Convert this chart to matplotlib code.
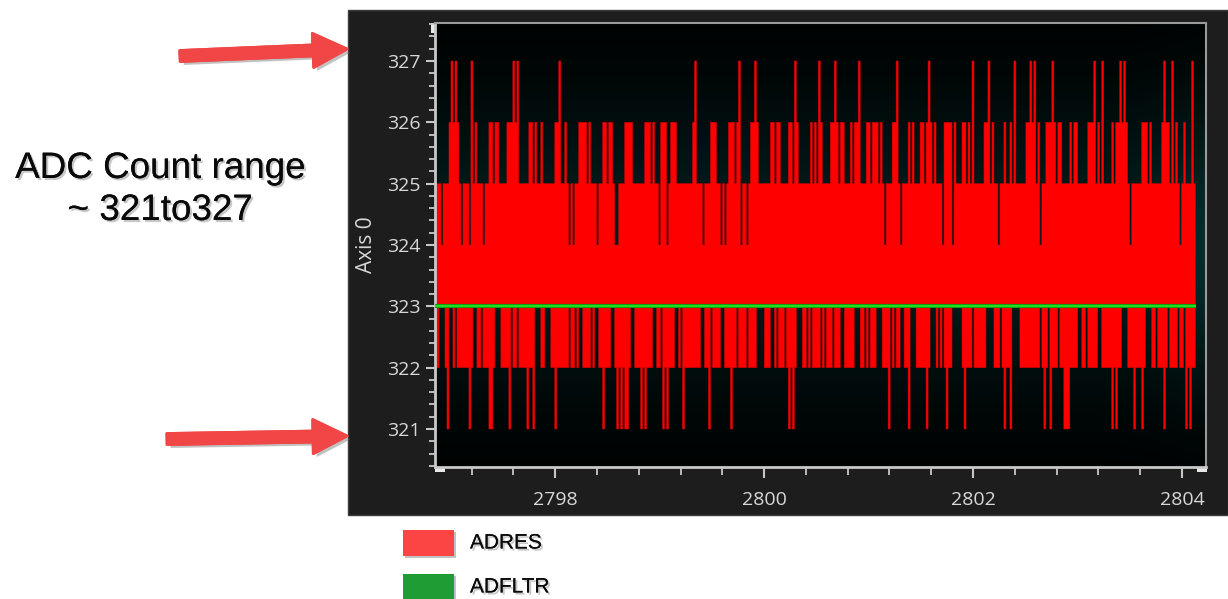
import numpy as np
import matplotlib
matplotlib.use("Agg")
import matplotlib.pyplot as plt
from matplotlib.patches import Rectangle, FancyArrow
from matplotlib.ticker import MultipleLocator
import matplotlib.patheffects as pe

# ---------------- data ----------------
# ADRES signal, read column by column (per-column max and min, as value - 320)
ADRES_MAX = (
    "5554555676" "7654555475" "6555455665" "6655556667" "6755555665"
    "6556555555" "6675565454" "5566665655" "5455665665" "445556"
    "6665555556" "6656554666" "4566655555" "5556755545" "5566655454"
    "5666567455" "4566765555" "5566566555" "5665765555" "556565"
    "7655556676" "5665556566" "7555665666" "5654555667" "5455565655"
    "5665676565" "5546666465" "5566565755" "5556675655" "455655"
    "6575555566" "7675645566" "6765665555" "6566555556" "6675657555"
    "5656676765" "4555556665" "6555556766" "5756545655" "575"
)
ADRES_MIN = (
    "2233321332" "3222222123" "3223222112" "3332222132" "2322221221"
    "3332233322" "1222222322" "3233222232" "3322122233" "212121"
    "1233222121" "2223322312" "1222332312" "2222222332" "2132222332"
    "2212232222" "3222233332" "2233232223" "2121233322" "323222"
    "2323222322" "2332222233" "3223232223" "3322213232" "2332213332"
    "2222123332" "3232122333" "3321222322" "2222333322" "232122"
    "1333322222" "2222232123" "1222322111" "2222332232" "2222332222"
    "2121223332" "2212221233" "3223222123" "2222322312" "122"
)
ADRES_OFFSET = 320
T_START = 2796.85
T_END = 2804.13
ADFLTR_T = [2796.85, 2804.13]
ADFLTR_V = [323, 323]

Y_TICKS = [321, 322, 323, 324, 325, 326, 327]
X_TICKS = [2798, 2800, 2802, 2804]
SERIES_NAMES = ["ADRES", "ADFLTR"]
NOTE_LINES = ["ADC Count range", "~ 321to327"]
Y_LABEL = "Axis 0"

hi = np.array([int(c) for c in ADRES_MAX]) + ADRES_OFFSET
lo = np.array([int(c) for c in ADRES_MIN]) + ADRES_OFFSET
n = min(len(hi), len(lo))
hi, lo = hi[:n], lo[:n]
edges = np.linspace(T_START, T_END, n + 1)

# ---------------- figure ----------------
W, H = 1228, 599
fig = plt.figure(figsize=(W / 100, H / 100), dpi=100, facecolor="white")

bg = fig.add_axes([0, 0, 1, 1], zorder=0)
bg.set_xlim(0, W)
bg.set_ylim(H, 0)
bg.axis("off")

# dark panel
bg.add_patch(Rectangle((348, 10), 880, 505, facecolor="#1d1d1d",
                       edgecolor="#3c3c3c", linewidth=1))

# main axes
ax = fig.add_axes([435 / W, (H - 467) / H, 771 / W, 444 / H], zorder=1)
ax.set_facecolor("black")

# gradient background
yy = np.linspace(0, 1, 256)[:, None]
xx = np.linspace(0, 1, 256)[None, :]
f = np.exp(-((yy - 0.5) / 0.32) ** 2) * (1 + 0.5 * np.exp(-((1 - xx) / 0.06) ** 2))
img = np.zeros((256, 256, 3))
img[..., 0] = 0.010 * f
img[..., 1] = 0.115 * f
img[..., 2] = 0.112 * f
ax.imshow(img, extent=[0, 1, 0, 1], transform=ax.transAxes, aspect="auto",
          origin="lower", zorder=0, interpolation="bilinear")

ax.stairs(hi, edges, baseline=lo, fill=True, facecolor="#ff0000",
          edgecolor="#d00000", linewidth=0.4, zorder=2)
ax.plot(ADFLTR_T, ADFLTR_V, color="#0c9a0c", linewidth=3.0, zorder=3,
        solid_capstyle="butt")
ax.plot(ADFLTR_T, ADFLTR_V, color="#22dd22", linewidth=1.6, zorder=4,
        solid_capstyle="butt")

ax.set_xlim(2796.85, 2804.23)
ax.set_ylim(320.38, 327.62)

ax.set_yticks(Y_TICKS)
ax.set_xticks(X_TICKS)
ax.yaxis.set_minor_locator(MultipleLocator(0.2))
ax.xaxis.set_minor_locator(MultipleLocator(0.4))

tick_font = ["Open Sans", "DejaVu Sans"]
ax.tick_params(axis="y", which="major", length=6.5, width=1.5, colors="#c8c8c8",
               labelcolor="#d8d8d8", labelsize=14, pad=4)
ax.tick_params(axis="y", which="minor", length=4.3, width=1.3, colors="#c8c8c8")
ax.tick_params(axis="x", which="major", length=8, width=1.5, colors="#c8c8c8",
               labelcolor="#d8d8d8", labelsize=14, pad=9)
ax.tick_params(axis="x", which="minor", length=5.8, width=1.3, colors="#c8c8c8")
for lab in ax.get_xticklabels() + ax.get_yticklabels():
    lab.set_family(tick_font)

for s in ["left", "bottom"]:
    ax.spines[s].set_color("#c8c8c8")
    ax.spines[s].set_linewidth(2)
for s in ["top", "right"]:
    ax.spines[s].set_color("#9a9a9a")
    ax.spines[s].set_linewidth(1.5)

# scroll handles
for (x, y, w, h) in [(435, 467, 10, 5), (1197, 467, 10, 5), (431, 23, 4, 10)]:
    bg.add_patch(Rectangle((x, y), w, h, facecolor="#e8e8e8", edgecolor="none",
                           zorder=5))

fig.text(367 / W, 1 - 245 / H, Y_LABEL, rotation=90, ha="center", va="center",
         color="#d8d8d8", fontsize=15, family=tick_font)

# annotation text
shadow = [pe.withSimplePatchShadow(offset=(1.5, -1.5), shadow_rgbFace=(0.45, 0.45, 0.45),
                                   alpha=0.4), pe.Normal()]
bg.text(160, 178, NOTE_LINES[0], ha="center", va="baseline", fontsize=26.5,
        family=["Liberation Sans", "DejaVu Sans"], color="#0a0a0a", path_effects=shadow)
bg.text(160, 220, NOTE_LINES[1], ha="center", va="baseline", fontsize=26.5,
        family=["Liberation Sans", "DejaVu Sans"], color="#0a0a0a", path_effects=shadow)

# arrows
arrow_shadow = [pe.withSimplePatchShadow(offset=(2.5, -2.5),
                                         shadow_rgbFace=(0.4, 0.4, 0.4), alpha=0.4),
                pe.Normal()]
for (x0, y0, x1, y1) in [(180, 56, 347, 49), (167, 439, 347, 436)]:
    a = FancyArrow(x0, y0, x1 - x0, y1 - y0, width=11, head_width=34,
                   head_length=34, length_includes_head=True,
                   facecolor="#f04646", edgecolor="#f04646", linewidth=2,
                   joinstyle="round", capstyle="round")
    a.set_path_effects(arrow_shadow)
    bg.add_patch(a)

# legend
leg_colors = ["#fb4545", "#1f9d34"]
leg_y = [543, 587]
for name, c, y in zip(SERIES_NAMES, leg_colors, leg_y):
    r = Rectangle((403, y - 13), 51, 26, facecolor=c, edgecolor="none")
    r.set_path_effects([pe.withSimplePatchShadow(offset=(1.5, -1.5),
                                                 shadow_rgbFace=(0.4, 0.4, 0.4),
                                                 alpha=0.4), pe.Normal()])
    bg.add_patch(r)
    bg.text(470, y, name, ha="left", va="center", fontsize=15,
            family=["Liberation Sans", "DejaVu Sans"], color="#0a0a0a",
            path_effects=shadow)

fig.savefig("out.png", dpi=100, facecolor="white")
